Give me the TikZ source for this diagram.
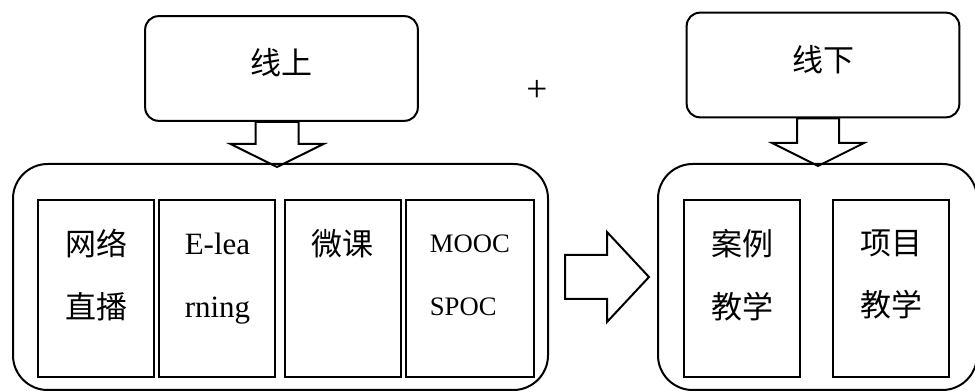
\documentclass[tikz,border=0pt]{standalone}
\usepackage{fontspec}
\setmainfont{Liberation Serif}
\newfontfamily\cjk{Noto Sans CJK SC}
\usetikzlibrary{positioning,calc}

\begin{document}
\begin{tikzpicture}[x=0.75pt,y=-0.75pt,line width=1.5pt,
    headbox/.style={draw, rounded corners=10pt, minimum width=204.5pt,
        minimum height=78.5pt, text depth=10pt, font=\fontsize{23.25}{28}\cjk},
    groupbox/.style={draw, rounded corners=26pt, minimum height=169.5pt},
    panel/.style={draw, minimum width=87pt, minimum height=132.75pt},
    paneltext/.style={anchor=north, inner sep=0pt, align=center},
    cjktext/.style={paneltext, yshift=-22pt, font=\fontsize{23.25}{47}\cjk},
    latintext/.style={paneltext, yshift=-25pt, font=\fontsize{23.25}{47}\selectfont},
    mooctext/.style={paneltext, yshift=-26.5pt, align=left,
        font=\fontsize{20}{47}\selectfont},
    blockarrow/.style={line join=miter}
]

\useasboundingbox (0,0) rectangle (975,391);

% top boxes
\node[headbox] (online) at (281.5,68.5) {线上};
\node[headbox] (offline) at (823,65) {线下};
\node[font=\fontsize{28}{30}\selectfont] (plus) at (537,91) {+};

% groups
\node[groupbox, minimum width=401.25pt] (onlinegroup) at (280.5,277) {};
\node[groupbox, minimum width=239.25pt] (offlinegroup) at (817.5,277) {};

% online panels
\node[panel,
    label={[cjktext]north:网络\\直播}
] (live) at (96,288.5) {};

\node[panel,
    right=2.6pt of live,
    label={[latintext]north:E-lea\\rning}
] (elearn) {};

\node[panel,
    right=5.6pt of elearn,
    label={[cjktext]north:微课}
] (micro) {};

\node[panel,
    minimum width=96pt,
    right=2.2pt of micro,
    label={[mooctext]north:MOOC\\SPOC}
] (mooc) {};

% offline panels
\node[panel,
    label={[cjktext]north:案例\\教学}
] (case) at (742,288.5) {};

\node[panel,
    right=23.6pt of case,
    label={[cjktext]north:项目\\教学}
] (project) {};

% block arrows
\coordinate (tipA) at ($(onlinegroup.north)+(-3.5,4)$);
\draw[blockarrow] (tipA) -- ++(-46.5,-23) -- ++(25,0)
    -- ($(tipA |- online.south)+(-21.5,0)$) -- ++(43,0)
    -- ($(tipA)+(21.5,-23)$) -- ++(25,0) -- cycle;

\coordinate (tipB) at ($(offlinegroup.north)+(0.5,3)$);
\draw[blockarrow] (tipB) -- ++(-46,-23) -- ++(25,0)
    -- ($(tipB |- offline.south)+(-21,0)$) -- ++(42,0)
    -- ($(tipB)+(21,-23)$) -- ++(25,0) -- cycle;

\coordinate (tipC) at ($(offlinegroup.west)+(-8,0)$);
\draw[blockarrow] (tipC) -- ++(-42,-45) -- ++(0,23)
    -- ($(onlinegroup.east |- tipC)+(16,-22)$) -- ++(0,44)
    -- ($(tipC)+(-42,22)$) -- ++(0,23) -- cycle;

\end{tikzpicture}
\end{document}
